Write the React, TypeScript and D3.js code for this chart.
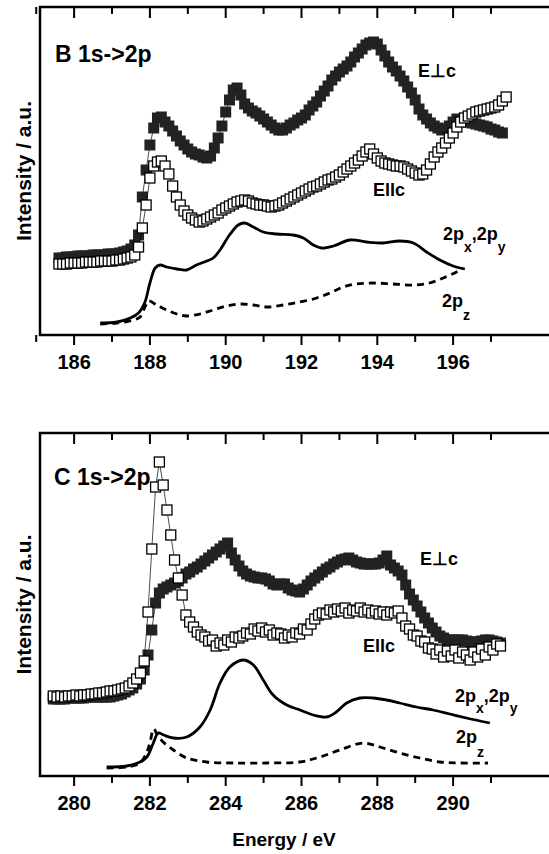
import React from 'react';
import * as d3 from 'd3';

// ---------- data ----------
// measured spectra are sampled on a regular 0.1 eV grid
const STEP = 0.1;
const B_E0 = 185.6;
const C_E0 = 279.45;

// B 1s->2p, E perpendicular c (filled squares), intensity a.u.
const B_PERP = [
  77,77,78,78,78,79,79,79,79,80,
  80,80,80,81,81,81,82,83,84,86,
  90,100,138,165,190,207,217,218,213,209,
  204,199,194,190,186,183,181,180,178,177,
  179,187,197,209,223,235,245,247,240,231,
  227,224,222,219,216,213,210,207,205,205,
  207,210,212,215,217,220,225,229,233,239,
  244,249,255,259,263,266,269,273,278,282,
  286,290,292,293,291,285,279,273,268,264,
  259,254,248,242,235,226,220,216,212,209,
  207,205,206,209,213,216,215,214,213,212,
  211,210,209,208,206,205,203,202,
];
// B 1s->2p, E parallel c (open squares)
const B_PAR = [
  71,71,71,72,72,72,72,73,73,73,
  73,74,74,74,74,75,75,76,77,78,
  80,88,107,130,157,169,173,174,169,161,
  149,138,130,124,120,117,115,113,114,116,
  118,120,122,125,127,129,131,133,134,135,
  134,132,131,130,130,129,128,129,130,132,
  134,136,138,140,142,144,146,148,149,151,
  153,155,156,158,160,163,166,169,172,175,
  179,183,186,181,177,174,172,171,170,169,
  169,168,166,164,162,160,161,165,171,178,
  183,187,192,197,202,208,213,217,219,221,
  223,224,225,226,227,228,230,234,238,
];
// B calculated 2px,2py (solid) and 2pz (dashed)
const B_XY_E = [186.69,187.13,187.48,187.7,187.87,188.0,188.14,188.27,188.44,188.71,188.97,189.23,189.5,189.67,189.85,190.1,190.33,190.5,190.73,190.99,191.34,191.78,192.05,192.31,192.53,192.84,193.28,193.72,194.15,194.59,194.95,195.3,195.65,196.0,196.31];
const B_XY_I = [12,13,17,22,33,52,67,70,68,66,65,70,74,77,85,100,110,112,108,103,101,100,97,90,87,89,95,93,92,94,92,83,75,69,66];
const B_Z_E = [186.69,187.13,187.57,187.74,187.87,187.96,188.18,188.44,188.71,188.97,189.32,189.67,190.02,190.38,190.73,191.08,191.52,191.96,192.4,192.75,193.1,193.45,193.89,194.42,194.95,195.38,195.74,196.09,196.26];
const B_Z_I = [11,12,15,18,28,34,30,25,21,19,21,25,29,31,30,28,30,33,37,42,48,51,52,51,50,52,57,63,67];

// C 1s->2p, E perpendicular c (filled squares)
const C_PERP = [
  77,77,77,77,78,78,78,78,78,79,
  79,79,79,79,79,79,80,81,82,84,
  86,88,92,97,106,121,146,173,183,187,
  189,191,193,195,198,202,204,207,209,212,
  215,218,221,224,227,230,233,223,216,210,
  205,202,200,199,198,198,197,195,192,191,
  192,192,188,186,185,184,187,191,195,198,
  201,204,207,209,212,214,216,217,218,216,
  214,213,212,212,212,212,213,216,220,211,
  208,205,201,191,182,176,170,164,158,153,
  148,144,140,138,136,136,136,136,136,135,
  134,134,134,135,136,136,135,134,133,
];
// C 1s->2p, E parallel c (open squares)
const C_PAR = [
  80,79,80,79,80,80,81,80,81,81,
  82,82,83,83,84,85,85,86,87,88,
  90,93,97,103,115,164,227,289,314,291,
  266,241,216,198,181,161,154,149,144,141,
  139,135,136,130,133,131,136,134,139,138,
  140,143,142,147,145,148,144,146,141,143,
  142,138,141,139,143,142,147,146,152,157,
  161,163,162,166,164,167,165,168,163,166,
  165,168,164,166,163,165,162,164,161,164,
  163,165,158,150,147,141,140,135,134,128,
  127,122,126,119,125,120,126,118,124,121,
  116,124,119,127,121,129,126,132,130,
];
const C_XY_E = [280.86,281.39,281.74,281.92,282.09,282.22,282.36,282.62,282.97,283.32,283.59,283.85,284.11,284.46,284.73,284.99,285.25,285.61,285.96,286.31,286.66,286.92,287.19,287.54,287.89,288.24,288.59,289.03,289.47,289.91,290.35,290.97];
const C_XY_I = [9,10,14,19,33,43,41,38,39,49,66,93,109,116,111,96,81,71,66,61,59,64,73,78,78,76,73,69,66,62,58,53];
const C_Z_E = [280.86,281.39,281.74,281.92,282.0,282.1,282.2,282.35,282.62,282.97,283.5,284.2,285.08,285.96,286.49,287.01,287.63,288.07,288.59,289.12,289.65,290.18,290.92];
const C_Z_I = [8,9,13,24,33,47,41,34,26,18,14,13,13,14,19,26,33,29,23,18,14,13,13];

const B_MAJOR = [186, 188, 190, 192, 194, 196];
const B_MINOR = [185, 187, 189, 191, 193, 195, 197];
const C_MAJOR = [280, 282, 284, 286, 288, 290];
const C_MINOR = [281, 283, 285, 287, 289, 291];

// ---------- layout ----------
const W = 549, H = 854;
const LEFT = 40, RIGHT = 566.8;
const FONT = "'Liberation Sans', Arial, Helvetica, sans-serif";

type PanelCfg = {
  xDomain: [number, number];
  yMax: number;
  top: number;
  bottom: number;
  e0: number;
  perp: number[];
  par: number[];
  xyE: number[]; xyI: number[];
  zE: number[]; zI: number[];
  major: number[]; minor: number[];
};

function Panel({ c }: { c: PanelCfg }) {
  const x = d3.scaleLinear().domain(c.xDomain).range([LEFT, RIGHT]);
  const y = d3.scaleLinear().domain([0, c.yMax]).range([c.bottom, c.top]);
  const pts = (vals: number[]) => vals.map((v, i) => [c.e0 + i * STEP, v] as [number, number]);
  const perp = pts(c.perp);
  const par = pts(c.par);
  const lin = d3.line<[number, number]>().x(d => x(d[0])).y(d => y(d[1]));
  const smooth = d3.line<[number, number]>().x(d => x(d[0])).y(d => y(d[1])).curve(d3.curveCatmullRom.alpha(0.5));
  const xy = c.xyE.map((e, i) => [e, c.xyI[i]] as [number, number]);
  const z = c.zE.map((e, i) => [e, c.zI[i]] as [number, number]);
  const FS = 11, OS = 10;
  return (
    <g>
      <path d={smooth(xy) || ''} fill="none" stroke="#000" strokeWidth={2.8} />
      <path d={smooth(z) || ''} fill="none" stroke="#000" strokeWidth={2.8} strokeDasharray="7,5" />
      <path d={lin(perp) || ''} fill="none" stroke="#000" strokeWidth={0.7} />
      {perp.map((d, i) => (
        <rect key={'f' + i} x={x(d[0]) - FS / 2} y={y(d[1]) - FS / 2} width={FS} height={FS} fill="#222" />
      ))}
      <path d={lin(par) || ''} fill="none" stroke="#000" strokeWidth={0.7} />
      {par.map((d, i) => (
        <rect key={'o' + i} x={x(d[0]) - OS / 2} y={y(d[1]) - OS / 2} width={OS} height={OS} fill="#fff" stroke="#000" strokeWidth={1.3} />
      ))}
      <rect x={LEFT} y={c.top} width={RIGHT - LEFT} height={c.bottom - c.top} fill="none" stroke="#000" strokeWidth={2.5} />
      {c.major.map(t => (
        <g key={'M' + t}>
          <line x1={x(t)} x2={x(t)} y1={c.bottom} y2={c.bottom + 10} stroke="#000" strokeWidth={2} />
          <line x1={x(t)} x2={x(t)} y1={c.top} y2={c.top + 11} stroke="#000" strokeWidth={2} />
          <text x={x(t)} y={c.bottom + 34} textAnchor="middle" fontFamily={FONT} fontWeight="bold" fontSize={20}>{t}</text>
        </g>
      ))}
      {c.minor.map(t => (
        <g key={'m' + t}>
          <line x1={x(t)} x2={x(t)} y1={c.bottom} y2={c.bottom + 7} stroke="#000" strokeWidth={2} />
          <line x1={x(t)} x2={x(t)} y1={c.top} y2={c.top + 7} stroke="#000" strokeWidth={2} />
        </g>
      ))}
      <text transform={`translate(31,${(c.top + c.bottom) / 2}) rotate(-90)`} textAnchor="middle" fontFamily={FONT} fontWeight="bold" fontSize={21}>Intensity / a.u.</text>
    </g>
  );
}

const B_CFG: PanelCfg = {
  xDomain: [185.1, 199.0], yMax: 328, top: 7, bottom: 335, e0: B_E0,
  perp: B_PERP, par: B_PAR, xyE: B_XY_E, xyI: B_XY_I, zE: B_Z_E, zI: B_Z_I,
  major: B_MAJOR, minor: B_MINOR,
};
const C_CFG: PanelCfg = {
  xDomain: [279.1, 293.0], yMax: 343, top: 433, bottom: 776, e0: C_E0,
  perp: C_PERP, par: C_PAR, xyE: C_XY_E, xyI: C_XY_I, zE: C_Z_E, zI: C_Z_I,
  major: C_MAJOR, minor: C_MINOR,
};

function Lbl({ x, y, children }: { x: number; y: number; children: React.ReactNode }) {
  return <text x={x} y={y} fontFamily={FONT} fontWeight="bold" fontSize={18}>{children}</text>;
}

export default function App() {
  return (
    <svg width={W} height={H} style={{ position: 'absolute', left: 0, top: 0, background: '#fff' }}>
      <rect x={0} y={0} width={W} height={H} fill="#fff" />
      <Panel c={B_CFG} />
      <Panel c={C_CFG} />
      <text x={55} y={62} fontFamily={FONT} fontWeight="bold" fontSize={23}>B 1s-&gt;2p</text>
      <text x={54} y={485} fontFamily={FONT} fontWeight="bold" fontSize={23}>C 1s-&gt;2p</text>

      <Lbl x={418} y={77}>E⊥c</Lbl>
      <Lbl x={373} y={196}>Ellc</Lbl>
      <Lbl x={443} y={240}>2p<tspan dy={12} fontSize={14}>x</tspan><tspan dy={-12}>,2p</tspan><tspan dy={12} fontSize={14}>y</tspan></Lbl>
      <Lbl x={442} y={307}>2p<tspan dy={13} fontSize={14}>z</tspan></Lbl>

      <Lbl x={420} y={565}>E⊥c</Lbl>
      <Lbl x={363} y={652}>Ellc</Lbl>
      <Lbl x={455} y={702}>2p<tspan dy={11} fontSize={14}>x</tspan><tspan dy={-11}>,2p</tspan><tspan dy={11} fontSize={14}>y</tspan></Lbl>
      <Lbl x={456} y={743}>2p<tspan dy={14} fontSize={14}>z</tspan></Lbl>

      <text x={284} y={846} textAnchor="middle" fontFamily={FONT} fontWeight="bold" fontSize={19}>Energy / eV</text>
    </svg>
  );
}
